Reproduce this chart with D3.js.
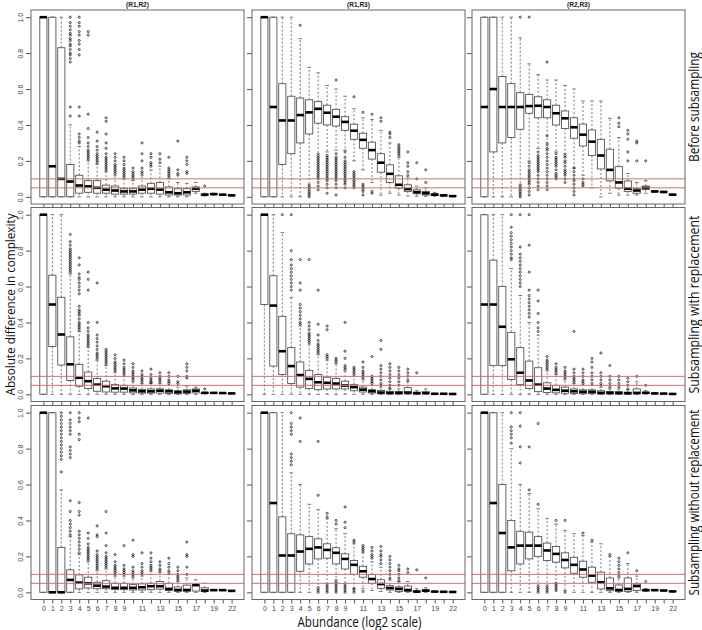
<!DOCTYPE html>
<html>
<head>
<meta charset="utf-8">
<script src="https://cdn.jsdelivr.net/npm/d3@7"></script>
<style>
  body { margin: 0; background: #fff; }
  svg { display: block; }
</style>
</head>
<body>
<script>
const abundance = ["0","1","2","3","4","5","6","7","8","9","10","11","12","13","14","15","16","17","18","19","20","22"];
const labelledAbundance = ["0","1","2","3","4","5","6","7","8","9","11","13","15","17","19","22"];
const pairs = ["(R1,R2)", "(R1,R3)", "(R2,R3)"];
const schemes = ["Before subsampling", "Subsampling with replacement", "Subsampling without replacement"];
const yTicks = [0, 0.2, 0.4, 0.6, 0.8, 1.0];
const thresholds = [0.05, 0.1];

// each box: [lower whisker, q1, median, q3, upper whisker]
const beforeR1R2 = [
  [0,0,1,1,1],[0,0,0.17,1,1],[0,0,0.10,0.83,1],[0,0,0.085,0.18,0.40],
  [0,0.02,0.063,0.12,0.28],[0,0.025,0.058,0.09,0.2],[0,0.02,0.05,0.09,0.18],[0,0.02,0.04,0.065,0.14],
  [0,0.015,0.035,0.06,0.12],[0,0.015,0.03,0.045,0.1],[0,0.015,0.03,0.045,0.09],[0,0.02,0.04,0.06,0.12],
  [0,0.02,0.045,0.075,0.15],[0,0.015,0.04,0.08,0.17],[0,0.01,0.025,0.055,0.1],[0,0.01,0.02,0.045,0.08],
  [0,0.01,0.025,0.045,0.075],[0.02,0.03,0.045,0.055,0.08],[0.005,0.01,0.012,0.015,0.02],
  [0.01,0.013,0.015,0.017,0.02],[0.008,0.01,0.012,0.013,0.015],[0.005,0.007,0.008,0.009,0.01]
];
const beforeR1R2Out = [
  [],[],[],
  [0.45,0.5,0.75,0.77,0.79,0.8,0.82,0.84,0.85,0.87,0.88,0.9,0.91,0.93,0.95,0.97,1.0],
  [0.3,0.31,0.33,0.35,0.45,0.5,0.79,0.82,0.85,0.87,0.9,0.92,0.95,0.97,1.0],
  [0.21,0.22,0.23,0.24,0.25,0.26,0.28,0.3,0.33,0.38,0.46,0.9,0.92],
  [0.19,0.2,0.21,0.22,0.23,0.24,0.26,0.28,0.31,0.36],
  [0.15,0.16,0.17,0.18,0.19,0.2,0.21,0.22,0.24,0.27,0.3,0.35,0.42,0.44],
  [0.13,0.14,0.15,0.16,0.17,0.18,0.2,0.22,0.24],
  [0.11,0.12,0.13,0.14,0.15,0.16,0.18,0.2,0.22],
  [0.1,0.11,0.12,0.13,0.14,0.16],
  [0.13,0.14,0.16,0.2,0.24,0.3],
  [0.17,0.18,0.19,0.22,0.24],
  [0.19,0.21,0.24],
  [0.11,0.12,0.13,0.14,0.15,0.16,0.22],
  [0.12,0.13,0.15,0.31],
  [0.13,0.14,0.18,0.2,0.22],
  [],[0.06],[],[],[]
];

const beforeR1R3 = [
  [0,0,1,1,1],[0,0,0.5,1,1],[0,0.18,0.425,0.63,1],[0,0.24,0.425,0.56,1],
  [0,0.3,0.455,0.55,0.88],[0.07,0.35,0.47,0.54,0.72],[0.24,0.41,0.49,0.53,0.69],[0.25,0.4,0.468,0.51,0.62],
  [0.26,0.394,0.446,0.487,0.6],[0.26,0.37,0.417,0.446,0.56],[0.2,0.32,0.368,0.404,0.49],[0.15,0.27,0.317,0.354,0.44],
  [0.08,0.21,0.26,0.304,0.43],[0.01,0.137,0.19,0.24,0.37],[0.02,0.08,0.128,0.178,0.3],[0.01,0.048,0.067,0.117,0.22],
  [0.005,0.03,0.043,0.067,0.11],[0.003,0.017,0.026,0.039,0.06],[0.003,0.01,0.02,0.03,0.05],
  [0.003,0.007,0.012,0.017,0.025],[0.002,0.005,0.008,0.01,0.012],[0.001,0.003,0.004,0.005,0.006]
];
const beforeR1R3Out = [
  [],[],[],[],
  [0.955],
  [0.0,0.01,0.02,0.03,0.04,0.05,0.06],
  [0.04,0.06,0.08,0.1,0.11,0.12,0.13,0.14,0.15,0.16,0.17,0.18,0.19,0.2,0.21,0.22,0.23],
  [0.02,0.05,0.07,0.09,0.1,0.11,0.12,0.13,0.14,0.15,0.16,0.17,0.18,0.19,0.2,0.21,0.22,0.23],
  [0.65,0.01,0.05,0.07,0.09,0.1,0.11,0.12,0.13,0.14,0.15,0.16,0.17,0.18,0.19,0.2,0.21,0.22,0.24],
  [0.05,0.07,0.08,0.09,0.1,0.11,0.12,0.13,0.14,0.15,0.16,0.17,0.18,0.19,0.2,0.22,0.25],
  [0.557,0.05,0.06,0.07,0.08,0.09,0.1,0.11,0.12,0.13,0.14],
  [0.47,0.01,0.03,0.04,0.05,0.06,0.07],
  [0.46,0.02,0.03],
  [0.42,0.44],
  [0.33,0.35,0.36],
  [0.23,0.24,0.25,0.26,0.27,0.28,0.29],
  [0.12,0.14,0.17,0.19,0.25],
  [0.1,0.19],
  [0.08,0.15],
  [],[],[]
];

const beforeR2R3 = [
  [0,0,0.5,1,1],[0,0.25,0.6,1,1],[0,0.3,0.5,0.67,1],[0,0.33,0.5,0.63,1],
  [0.07,0.376,0.5,0.58,0.885],[0.2,0.465,0.505,0.57,0.74],[0.27,0.44,0.507,0.557,0.68],[0.3,0.44,0.5,0.54,0.65],
  [0.25,0.4,0.465,0.51,0.65],[0.24,0.38,0.437,0.478,0.62],[0.16,0.326,0.387,0.44,0.6],[0.12,0.283,0.346,0.405,0.533],
  [0.05,0.23,0.307,0.372,0.533],[0,0.155,0.23,0.32,0.533],[0.02,0.089,0.15,0.265,0.437],[0.01,0.048,0.08,0.168,0.33],
  [0.01,0.03,0.045,0.088,0.13],[0.01,0.02,0.035,0.045,0.08],[0.02,0.04,0.05,0.06,0.09],
  [0.025,0.028,0.03,0.032,0.035],[0.022,0.025,0.027,0.029,0.031],[0.008,0.01,0.012,0.013,0.015]
];
const beforeR2R3Out = [
  [],[],[],[],
  [1.0,0.0,0.01,0.02,0.03,0.04,0.05,0.06],
  [1.0,0.01,0.03,0.05,0.07,0.08,0.09,0.1,0.11,0.12,0.13,0.14,0.15,0.17,0.19],
  [0.04,0.06,0.08,0.1,0.12,0.14,0.15,0.16,0.17,0.18,0.19,0.2,0.21,0.22,0.23,0.25],
  [0.75,0.04,0.06,0.08,0.1,0.12,0.14,0.16,0.18,0.2,0.22,0.24,0.26,0.27,0.29,0.34],
  [0.1,0.11,0.12,0.13,0.15,0.17,0.18,0.19,0.2,0.21,0.22,0.24],
  [0.08,0.1,0.12,0.13,0.14,0.15,0.17,0.19,0.2,0.22,0.23],
  [0.01,0.03,0.05,0.07,0.09,0.1,0.12,0.14,0.16],
  [0.06,0.07,0.08,0.1],
  [],[],[],
  [0.39,0.41,0.44],
  [0.2,0.25,0.32,0.35,0.37],
  [0.2,0.3,0.31],
  [0.2],
  [],[],[]
];

const withR1R2 = [
  [0,0,1,1,1],[0,0.266,0.5,0.663,1],[0,0.163,0.333,0.54,1],[0,0.077,0.167,0.32,0.67],
  [0,0.045,0.092,0.167,0.35],[0,0.032,0.073,0.124,0.26],[0,0.017,0.054,0.088,0.19],[0,0.013,0.045,0.073,0.16],
  [0,0.012,0.033,0.054,0.12],[0,0.012,0.032,0.05,0.1],[0,0.008,0.022,0.035,0.07],[0,0.007,0.017,0.028,0.06],
  [0,0.007,0.017,0.03,0.06],[0,0.007,0.02,0.03,0.06],[0,0.005,0.017,0.025,0.05],[0,0.003,0.012,0.02,0.04],
  [0,0.005,0.015,0.025,0.045],[0,0.008,0.02,0.03,0.04],[0.003,0.005,0.008,0.01,0.012],
  [0.006,0.007,0.008,0.009,0.01],[0.005,0.006,0.007,0.008,0.009],[0.003,0.004,0.005,0.006,0.007]
];
const withR1R2Out = [
  [],[],[],
  [0.68,0.69,0.7,0.71,0.72,0.73,0.74,0.75,0.76,0.77,0.78,0.79,0.8,0.81,0.83,0.85,0.89],
  [0.36,0.37,0.38,0.39,0.4,0.42,0.44,0.45,0.46,0.47,0.49,0.56,0.58,0.6,0.62,0.64,0.65,0.67,0.72,0.76],
  [0.27,0.28,0.29,0.3,0.31,0.32,0.33,0.35,0.37,0.4,0.58,0.64,0.68],
  [0.2,0.21,0.22,0.23,0.25,0.27,0.29,0.31,0.33,0.4,0.62],
  [0.17,0.18,0.19,0.2,0.21,0.22,0.23,0.24,0.25],
  [0.13,0.14,0.15,0.16,0.17,0.18,0.2,0.22],
  [0.11,0.12,0.13,0.14,0.15,0.17,0.19],
  [0.08,0.09,0.1,0.11,0.12,0.13,0.15,0.17],
  [0.07,0.08,0.09,0.1,0.11,0.13],
  [0.065,0.07,0.08,0.09,0.11,0.14],
  [0.07,0.08,0.09,0.1,0.12],
  [0.06,0.07,0.08,0.1,0.12],
  [0.06,0.07,0.1],
  [0.09,0.1,0.13,0.15,0.17],
  [],[0.03],[],[],[]
];

const withR1R3 = [
  [0,0.5,1,1,1],[0,0.157,0.494,0.66,1],[0,0.11,0.24,0.434,0.9],[0,0.06,0.157,0.26,0.54],
  [0,0.04,0.107,0.18,0.38],[0,0.032,0.086,0.133,0.28],[0,0.026,0.067,0.11,0.22],[0,0.03,0.064,0.095,0.19],
  [0,0.03,0.06,0.088,0.17],[0,0.03,0.049,0.073,0.13],[0,0.02,0.04,0.054,0.1],[0,0.013,0.026,0.04,0.08],
  [0,0.007,0.017,0.026,0.05],[0,0.003,0.01,0.022,0.04],[0,0.002,0.008,0.017,0.03],[0,0.002,0.008,0.015,0.03],
  [0,0.002,0.01,0.037,0.07],[0,0.002,0.006,0.012,0.02],[0.002,0.005,0.006,0.015,0.03],
  [0.001,0.002,0.003,0.004,0.005],[0.001,0.002,0.003,0.004,0.005],[0,0.001,0.002,0.003,0.004]
];
const withR1R3Out = [
  [],[],
  [1.0],
  [0.58,0.6,0.62,0.64,0.66,0.68,0.7,0.72,0.75,0.8,1.0],
  [0.39,0.4,0.42,0.44,0.46,0.48,0.5,0.58,0.62,0.75],
  [0.29,0.3,0.31,0.32,0.33,0.34,0.36,0.38,0.4,0.75],
  [0.23,0.24,0.25,0.26,0.27,0.28,0.3,0.33,0.39,0.58],
  [0.2,0.21,0.22,0.36,0.38],
  [0.18,0.19,0.2],
  [0.14,0.15,0.16,0.2,0.24,0.4],
  [0.11,0.12,0.13,0.14,0.15],
  [0.09,0.1,0.11,0.12,0.13,0.15,0.18],
  [0.06,0.07,0.08,0.09,0.1,0.21],
  [0.05,0.06,0.08,0.1,0.12,0.14,0.16,0.25,0.3],
  [0.035,0.05,0.07,0.09,0.11,0.13,0.15,0.17],
  [0.05,0.07,0.09,0.11,0.13,0.15],
  [0.08,0.1,0.12,0.14],
  [0.12],
  [],[],[],[]
];

const withR2R3 = [
  [0,0,0.5,1,1],[0,0.16,0.5,0.747,1],[0,0.16,0.376,0.6,1],[0,0.082,0.195,0.345,0.7],
  [0,0.054,0.12,0.26,0.55],[0,0.032,0.077,0.185,0.4],[0,0.015,0.054,0.148,0.33],[0,0.01,0.032,0.064,0.13],
  [0,0.008,0.025,0.05,0.11],[0,0.006,0.02,0.04,0.08],[0,0.005,0.017,0.03,0.06],[0,0.004,0.014,0.025,0.05],
  [0,0.004,0.014,0.025,0.05],[0,0.002,0.008,0.02,0.04],[0,0.002,0.008,0.016,0.03],[0,0.002,0.007,0.015,0.03],
  [0,0.002,0.006,0.012,0.025],[0,0.002,0.008,0.03,0.07],[0.002,0.005,0.008,0.012,0.02],
  [0.003,0.004,0.005,0.006,0.007],[0.002,0.003,0.004,0.005,0.006],[0.001,0.002,0.002,0.003,0.004]
];
const withR2R3Out = [
  [],[],[],
  [0.75,0.76,0.78,0.8,0.82,0.84,0.86,0.88,0.9,0.93,1.0],
  [0.6,0.62,0.64,0.66,0.68,0.7,0.72,0.74,0.76,0.78,0.82,1.0],
  [0.43,0.45,0.47,0.49,0.51,0.53,0.55,0.58,0.68,0.83,1.0],
  [0.35,0.37,0.4,0.45,0.52,0.58],
  [0.14,0.15,0.16,0.17,0.18,0.19,0.21],
  [0.12,0.13,0.14,0.15,0.17],
  [0.09,0.1,0.11,0.12,0.13,0.15],
  [0.07,0.08,0.09,0.1,0.12,0.14,0.35],
  [0.06,0.07,0.08,0.1,0.12,0.14],
  [0.06,0.08,0.1,0.12,0.15,0.18,0.2],
  [0.05,0.06,0.08,0.1,0.12,0.23],
  [0.04,0.06,0.08,0.1,0.16],
  [0.04,0.06,0.08,0.1],
  [0.03,0.05,0.07,0.09],
  [0.1],
  [0.05],
  [],[],[]
];

const withoutR1R2 = [
  [0,0,1,1,1],[0,0,0,1,1],[0,0,0,0.25,0.57],[0,0,0.069,0.125,0.31],
  [0,0.019,0.054,0.097,0.21],[0,0.024,0.05,0.084,0.17],[0,0.02,0.037,0.056,0.12],[0,0.02,0.032,0.065,0.13],
  [0,0.015,0.025,0.05,0.09],[0,0.015,0.025,0.05,0.09],[0,0.013,0.025,0.043,0.08],[0,0.013,0.028,0.047,0.09],
  [0,0.015,0.034,0.05,0.1],[0,0.018,0.034,0.06,0.11],[0,0.01,0.019,0.05,0.1],[0,0.006,0.013,0.03,0.06],
  [0,0.006,0.013,0.04,0.08],[0,0.007,0.04,0.042,0.07],[0,0.005,0.01,0.025,0.05],
  [0.01,0.011,0.012,0.013,0.014],[0.01,0.011,0.012,0.013,0.014],[0.006,0.007,0.008,0.009,0.01]
];
const withoutR1R2Out = [
  [],[],
  [0.67,0.74,0.76,0.78,0.8,0.82,0.84,0.86,0.88,0.9,0.92,0.94,0.96,0.98,1.0],
  [0.32,0.34,0.36,0.38,0.4,0.45,0.51,0.75,0.77,0.79,0.81,0.88,0.9,0.92,0.94,0.96,1.0],
  [0.22,0.24,0.26,0.28,0.3,0.32,0.34,0.43,0.45,0.5,0.85,0.88,0.95,0.97,1.0],
  [0.18,0.19,0.2,0.21,0.22,0.23,0.24,0.25,0.27,0.3,0.33,0.97],
  [0.13,0.14,0.15,0.16,0.17,0.18,0.19,0.2,0.21,0.23,0.31,0.32,0.37],
  [0.14,0.15,0.16,0.17,0.18,0.19,0.2,0.22,0.26,0.33,0.45],
  [0.1,0.11,0.12,0.13,0.14,0.15,0.17,0.21],
  [0.1,0.11,0.12,0.13,0.15,0.26],
  [0.09,0.1,0.11,0.12,0.14,0.2,0.21,0.29],
  [0.1,0.11,0.12,0.14,0.16,0.22],
  [0.12,0.13,0.14,0.15,0.17,0.19,0.22],
  [0.12,0.13,0.15,0.17],
  [0.11,0.12,0.14,0.16,0.19],
  [0.07,0.08,0.09,0.1,0.12,0.14],
  [0.1,0.14,0.2,0.21,0.28],
  [],[],[],[],[]
];

const withoutR1R3 = [
  [0,0,1,1,1],[0,0,0.497,1,1],[0,0,0.205,0.42,1],[0,0,0.205,0.326,0.665],
  [0,0.117,0.227,0.32,0.6],[0,0.158,0.242,0.31,0.49],[0.03,0.186,0.25,0.298,0.46],[0.05,0.19,0.236,0.27,0.41],
  [0.07,0.158,0.22,0.248,0.354],[0.05,0.13,0.186,0.214,0.326],[0.02,0.1,0.153,0.177,0.27],[0.02,0.084,0.117,0.145,0.22],
  [0.01,0.05,0.074,0.099,0.17],[0.005,0.022,0.046,0.07,0.14],[0,0.013,0.024,0.037,0.07],[0,0.005,0.019,0.03,0.06],
  [0,0.005,0.013,0.035,0.06],[0,0.002,0.004,0.008,0.02],[0,0.005,0.009,0.015,0.025],
  [0.002,0.003,0.004,0.005,0.006],[0.001,0.002,0.003,0.004,0.005],[0.001,0.002,0.002,0.003,0.004]
];
const withoutR1R3Out = [
  [],[],[],
  [0.71,0.73,0.75,0.77,0.88,0.9,0.92,0.94,1.0],
  [0.84,0.97],
  [],
  [0.54,0.84,0.0,0.01,0.02],
  [0.42,0.44,0.0,0.01,0.02,0.03,0.04],
  [0.38,0.4,0.0,0.01,0.02,0.03,0.04,0.05,0.06],
  [0.36,0.39,0.475,0.0,0.01,0.02,0.03,0.04],
  [0.28,0.29,0.0,0.01,0.02],
  [0.23,0.24,0.25,0.26,0.005],
  [0.19,0.2,0.21,0.23,0.25],
  [0.16,0.18,0.2,0.21,0.23,0.255],
  [0.08,0.1,0.12,0.14,0.16,0.18,0.2],
  [0.065,0.08,0.1,0.12,0.13,0.15],
  [0.11,0.13],
  [0.125],
  [0.08],
  [],[],[]
];

const withoutR2R3 = [
  [0,0,1,1,1],[0,0,0.497,1,1],[0,0,0.33,0.6,1],[0,0.12,0.25,0.4,0.8],
  [0,0.158,0.26,0.34,0.6],[0,0.186,0.26,0.335,0.55],[0.04,0.2,0.26,0.31,0.465],[0.04,0.177,0.233,0.274,0.41],
  [0.05,0.168,0.214,0.255,0.38],[0.01,0.136,0.18,0.22,0.345],[0,0.106,0.153,0.195,0.326],[0,0.084,0.127,0.173,0.316],
  [0,0.056,0.093,0.14,0.28],[0,0.019,0.056,0.112,0.27],[0,0.009,0.022,0.08,0.2],[0,0.005,0.013,0.041,0.08],
  [0,0.005,0.019,0.08,0.16],[0,0.01,0.035,0.047,0.09],[0.005,0.008,0.012,0.015,0.02],
  [0.01,0.011,0.012,0.013,0.014],[0.008,0.009,0.01,0.011,0.012],[0.003,0.004,0.005,0.006,0.007]
];
const withoutR2R3Out = [
  [],[],[],
  [0.83,0.86,0.88,0.9,0.92,1.0],
  [0.72,0.81,0.925,1.0],
  [0.57,0.81],
  [0.49,0.94,0.0,0.01,0.02,0.03],
  [0.0,0.01,0.02,0.03],
  [0.4,0.01,0.02,0.03,0.04,0.05],
  [0.4,0.0],
  [],
  [0.33],
  [0.29],
  [],
  [0.21],
  [0.09,0.11,0.13,0.15,0.17,0.19],
  [0.22],
  [0.12],
  [0.06],
  [],[],[]
];

const panels = [
  [[beforeR1R2, beforeR1R2Out], [beforeR1R3, beforeR1R3Out], [beforeR2R3, beforeR2R3Out]],
  [[withR1R2, withR1R2Out], [withR1R3, withR1R3Out], [withR2R3, withR2R3Out]],
  [[withoutR1R2, withoutR1R2Out], [withoutR1R3, withoutR1R3Out], [withoutR2R3, withoutR2R3Out]]
];

const width = 702, height = 630;
const colLeft = [31, 252, 472];
const rowTop = [10, 207.5, 405.5];
const pw = 213, ph = 194;
const lineColor = "#555";
const refColor = "#d46f6d";
const tickFont = "'Liberation Sans', Arial, sans-serif";
const labelFont = "'Open Sans', 'Noto Sans', sans-serif";

const svg = d3
  .select("body")
  .append("svg")
  .attr("width", width)
  .attr("height", height);

panels.forEach((row, r) => {
  row.forEach(([stats, outs], c) => {
    const g = svg.append("g").attr("transform", `translate(${colLeft[c]},${rowTop[r]})`);

    const x = d3.scalePoint().domain(abundance).range([0, pw]).padding(1.38);
    const y = d3.scaleLinear().domain([-0.04, 1.04]).range([ph, 0]);
    const bw = x.step() * 0.8;

    // y axis, labels only on the first column
    const yAxisGroup = g
      .append("g")
      .call(
        d3.axisLeft(y)
          .tickValues(yTicks)
          .tickSize(5)
          .tickFormat(c === 0 ? d3.format(".1f") : () => "")
      );
    yAxisGroup.select(".domain").remove();
    yAxisGroup.selectAll("line").attr("stroke", lineColor);
    yAxisGroup
      .selectAll("text")
      .attr("x", null)
      .attr("dy", null)
      .attr("transform", "translate(-8,0) rotate(-90)")
      .attr("text-anchor", "middle")
      .attr("fill", "#444")
      .style("font-family", tickFont)
      .style("font-size", "7px");

    // x axis, labels only on the bottom row
    const xAxisGroup = g
      .append("g")
      .attr("transform", `translate(0,${ph})`)
      .call(
        d3.axisBottom(x)
          .tickSize(4)
          .tickPadding(3)
          .tickFormat((d) => (r === 2 && labelledAbundance.includes(d) ? d : ""))
      );
    xAxisGroup.select(".domain").remove();
    xAxisGroup.selectAll("line").attr("stroke", lineColor);
    xAxisGroup
      .selectAll("text")
      .attr("fill", "#444")
      .style("font-family", tickFont)
      .style("font-size", "7px");

    const boxes = g
      .selectAll(".box")
      .data(stats)
      .join("g")
      .attr("class", "box")
      .attr("transform", (d, i) => `translate(${x(abundance[i])},0)`);

    // whiskers
    boxes
      .append("line")
      .attr("y1", (d) => y(d[3]))
      .attr("y2", (d) => y(d[4]))
      .attr("stroke", lineColor)
      .attr("stroke-width", 0.8)
      .attr("stroke-dasharray", "2,2");
    boxes
      .append("line")
      .attr("y1", (d) => y(d[1]))
      .attr("y2", (d) => y(d[0]))
      .attr("stroke", lineColor)
      .attr("stroke-width", 0.8)
      .attr("stroke-dasharray", "2,2");

    // staples
    [0, 4].forEach((k) => {
      boxes
        .append("line")
        .attr("x1", -bw / 4)
        .attr("x2", bw / 4)
        .attr("y1", (d) => y(d[k]))
        .attr("y2", (d) => y(d[k]))
        .attr("stroke", lineColor)
        .attr("stroke-width", 0.8);
    });

    boxes
      .append("rect")
      .attr("x", -bw / 2)
      .attr("width", bw)
      .attr("y", (d) => y(d[3]))
      .attr("height", (d) => Math.max(0, y(d[1]) - y(d[3])))
      .attr("fill", "none")
      .attr("stroke", lineColor)
      .attr("stroke-width", 0.9);

    boxes
      .append("line")
      .attr("x1", -bw / 2)
      .attr("x2", bw / 2)
      .attr("y1", (d) => y(d[2]))
      .attr("y2", (d) => y(d[2]))
      .attr("stroke", "#000")
      .attr("stroke-width", 2.6);

    // outliers
    const outPoints = outs.flatMap((vals, i) => vals.map((v) => ({ cat: abundance[i], v })));
    g.selectAll(".out")
      .data(outPoints)
      .join("circle")
      .attr("class", "out")
      .attr("cx", (d) => x(d.cat))
      .attr("cy", (d) => y(d.v))
      .attr("r", 1.05)
      .attr("fill", "none")
      .attr("stroke", "#222")
      .attr("stroke-width", 0.8);

    // reference lines
    g.selectAll(".ref")
      .data(thresholds)
      .join("line")
      .attr("class", "ref")
      .attr("x1", 0)
      .attr("x2", pw)
      .attr("y1", (d) => y(d))
      .attr("y2", (d) => y(d))
      .attr("stroke", refColor)
      .attr("stroke-width", 1);

    g.append("rect")
      .attr("width", pw)
      .attr("height", ph)
      .attr("fill", "none")
      .attr("stroke", "#666")
      .attr("stroke-width", 1);

    if (r === 0) {
      g.append("text")
        .attr("x", pw / 2)
        .attr("y", -3.5)
        .attr("text-anchor", "middle")
        .style("font-family", tickFont)
        .style("font-size", "6.5px")
        .style("font-weight", "bold")
        .attr("fill", "#222")
        .text(pairs[c]);
    }
  });
});

// row labels on the right
schemes.forEach((s, r) => {
  const lens = [110, 178, 186];
  svg
    .append("text")
    .attr("transform", `translate(699,${rowTop[r] + ph / 2}) rotate(-90)`)
    .attr("text-anchor", "middle")
    .attr("textLength", lens[r])
    .attr("lengthAdjust", "spacingAndGlyphs")
    .style("font-family", labelFont)
    .style("font-size", "14px")
    .attr("fill", "#111")
    .text(s);
});

svg
  .append("text")
  .attr("transform", `translate(15,${rowTop[1] + ph / 2}) rotate(-90)`)
  .attr("text-anchor", "middle")
  .attr("textLength", 182)
  .attr("lengthAdjust", "spacingAndGlyphs")
  .style("font-family", labelFont)
  .style("font-size", "13.5px")
  .attr("fill", "#111")
  .text("Absolute difference in complexity");

svg
  .append("text")
  .attr("x", colLeft[1] + pw / 2 + 1)
  .attr("y", 627)
  .attr("text-anchor", "middle")
  .attr("textLength", 124)
  .attr("lengthAdjust", "spacingAndGlyphs")
  .style("font-family", labelFont)
  .style("font-size", "14px")
  .attr("fill", "#111")
  .text("Abundance (log2 scale)");
</script>
</body>
</html>
